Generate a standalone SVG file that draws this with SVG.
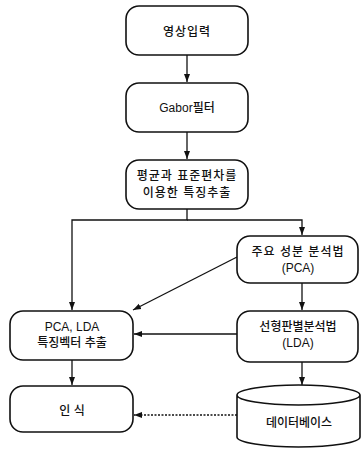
<svg xmlns="http://www.w3.org/2000/svg" width="362" height="451" viewBox="0 0 362 451">
<style>
.box{fill:#fff;stroke:#111;stroke-width:1.6}
.t{font-family:"Liberation Sans","Noto Sans CJK KR",sans-serif;font-size:12px;font-weight:500;fill:#111;text-anchor:middle;dominant-baseline:central}
.w{letter-spacing:1px}
.c{fill:none;stroke:#111;stroke-width:1.3}
.d{stroke-dasharray:2 1.5}
</style>
<defs>
<marker id="ah" viewBox="0 0 8 8" refX="8" refY="4" markerWidth="8" markerHeight="8" markerUnits="userSpaceOnUse" orient="auto">
<path d="M0,1 L8,4 L0,7 Z" fill="#111"/>
</marker>
</defs>
<rect width="362" height="451" fill="#fff"/>
<g id="connectors">
<line class="c" x1="187" y1="55" x2="187" y2="82" marker-end="url(#ah)"/>
<line class="c" x1="187" y1="132" x2="187" y2="159" marker-end="url(#ah)"/>
<polyline class="c" points="187,209 187,220 72,220 72,310" marker-end="url(#ah)"/>
<polyline class="c" points="187,220 302,220 302,235" marker-end="url(#ah)"/>
<line class="c" x1="302" y1="283" x2="302" y2="310" marker-end="url(#ah)"/>
<line class="c" x1="237" y1="257" x2="133" y2="310" marker-end="url(#ah)"/>
<line class="c" x1="237" y1="334" x2="134" y2="334" marker-end="url(#ah)"/>
<line class="c" x1="72" y1="360" x2="72" y2="385" marker-end="url(#ah)"/>
<line class="c" x1="302" y1="362" x2="302" y2="385" marker-end="url(#ah)"/>
<line class="c d" x1="237" y1="415" x2="134" y2="415" marker-end="url(#ah)"/>
</g>
<g id="n1"><rect class="box" x="126" y="6" width="122" height="49" rx="13"/><text class="t w" x="187" y="32">영상입력</text></g>
<g id="n2"><rect class="box" x="126" y="83" width="122" height="49" rx="13"/><text class="t" x="187" y="108">Gabor필터</text></g>
<g id="n3"><rect class="box" x="126" y="160" width="122" height="49" rx="13"/><text class="t w" x="187" y="176">평균과 표준편차를</text><text class="t w" x="187" y="193">이용한 특징추출</text></g>
<g id="n4"><rect class="box" x="237" y="236" width="121" height="47" rx="13"/><text class="t w" x="298" y="252">주요 성분 분석법</text><text class="t" x="298" y="268">(PCA)</text></g>
<g id="n5"><rect class="box" x="10" y="311" width="123" height="49" rx="13"/><text class="t" x="72" y="327">PCA, LDA</text><text class="t" x="72" y="343">특징벡터 추출</text></g>
<g id="n6"><rect class="box" x="237" y="311" width="121" height="51" rx="13"/><text class="t" x="298" y="327">선형판별분석법</text><text class="t" x="298" y="343">(LDA)</text></g>
<g id="n7"><rect class="box" x="10" y="386" width="123" height="46" rx="13"/><text class="t" x="72" y="411">인 식</text></g>
<g id="n8"><path class="box" d="M237,395 L237,437 A61.5,10 0 0 0 360,437 L360,395 A61.5,10 0 0 0 237,395 A61.5,10 0 0 0 360,395"/><text class="t" x="299" y="423">데이터베이스</text></g>
</svg>
